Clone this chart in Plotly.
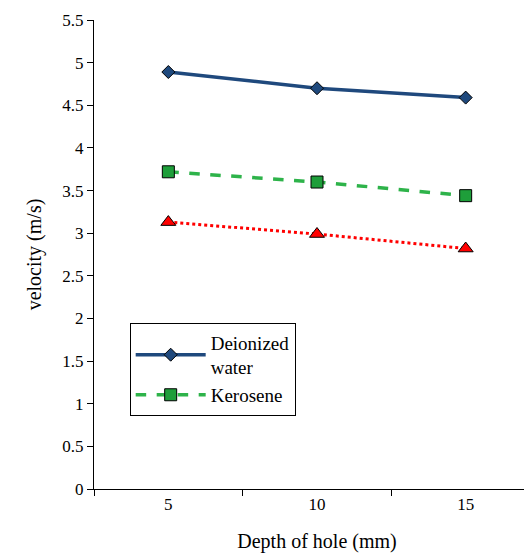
import plotly.graph_objects as go

depth = [5, 10, 15]
water = [4.89, 4.70, 4.59]
kerosene = [3.72, 3.60, 3.44]
third = [3.13, 2.99, 2.82]

fig = go.Figure()
fig.add_trace(go.Scatter(x=depth, y=water, name="Deionized<br>water", mode="lines+markers",
                         line=dict(color="#1F497D", width=3.5),
                         marker=dict(symbol="diamond", size=10, color="#1F497D",
                                     line=dict(color="black", width=1))))
fig.add_trace(go.Scatter(x=depth, y=kerosene, name="Kerosene", mode="lines+markers",
                         line=dict(color="#2EB34A", width=3.5, dash="dash"),
                         marker=dict(symbol="square", size=12, color="#1E9E3A",
                                     line=dict(color="black", width=1))))
fig.add_trace(go.Scatter(x=depth, y=third, name="", mode="lines+markers", showlegend=False,
                         line=dict(color="red", width=3, dash="dot"),
                         marker=dict(symbol="triangle-up", size=13, color="red",
                                     line=dict(color="black", width=1))))

fig.update_layout(
    width=532, height=555,
    margin=dict(l=86, r=0, t=12, b=74),
    plot_bgcolor="white", paper_bgcolor="white",
    font=dict(family="Liberation Serif", size=17, color="black"),
    showlegend=True,
    legend=dict(x=0.08, y=0.355, xanchor="left", yanchor="top",
                bordercolor="black", borderwidth=1, bgcolor="white",
                font=dict(size=19), itemwidth=70, tracegroupgap=8,
                entrywidth=130),
    xaxis=dict(range=[2.5, 17.5], tickvals=[5, 10, 15], ticks="",
               showline=True, linecolor="black", showgrid=False, zeroline=False,
               minor=dict(tick0=2.5, dtick=5, ticks="outside", ticklen=6, tickcolor="black"),
               title=dict(text="Depth of hole (mm)", standoff=20)),
    yaxis=dict(range=[0, 5.5], dtick=0.5, ticks="outside", ticklen=6, tickcolor="black",
               showline=True, linecolor="black", showgrid=False, zeroline=False,
               title=dict(text="velocity (m/s)")),
)
fig.write_html("out.html")
